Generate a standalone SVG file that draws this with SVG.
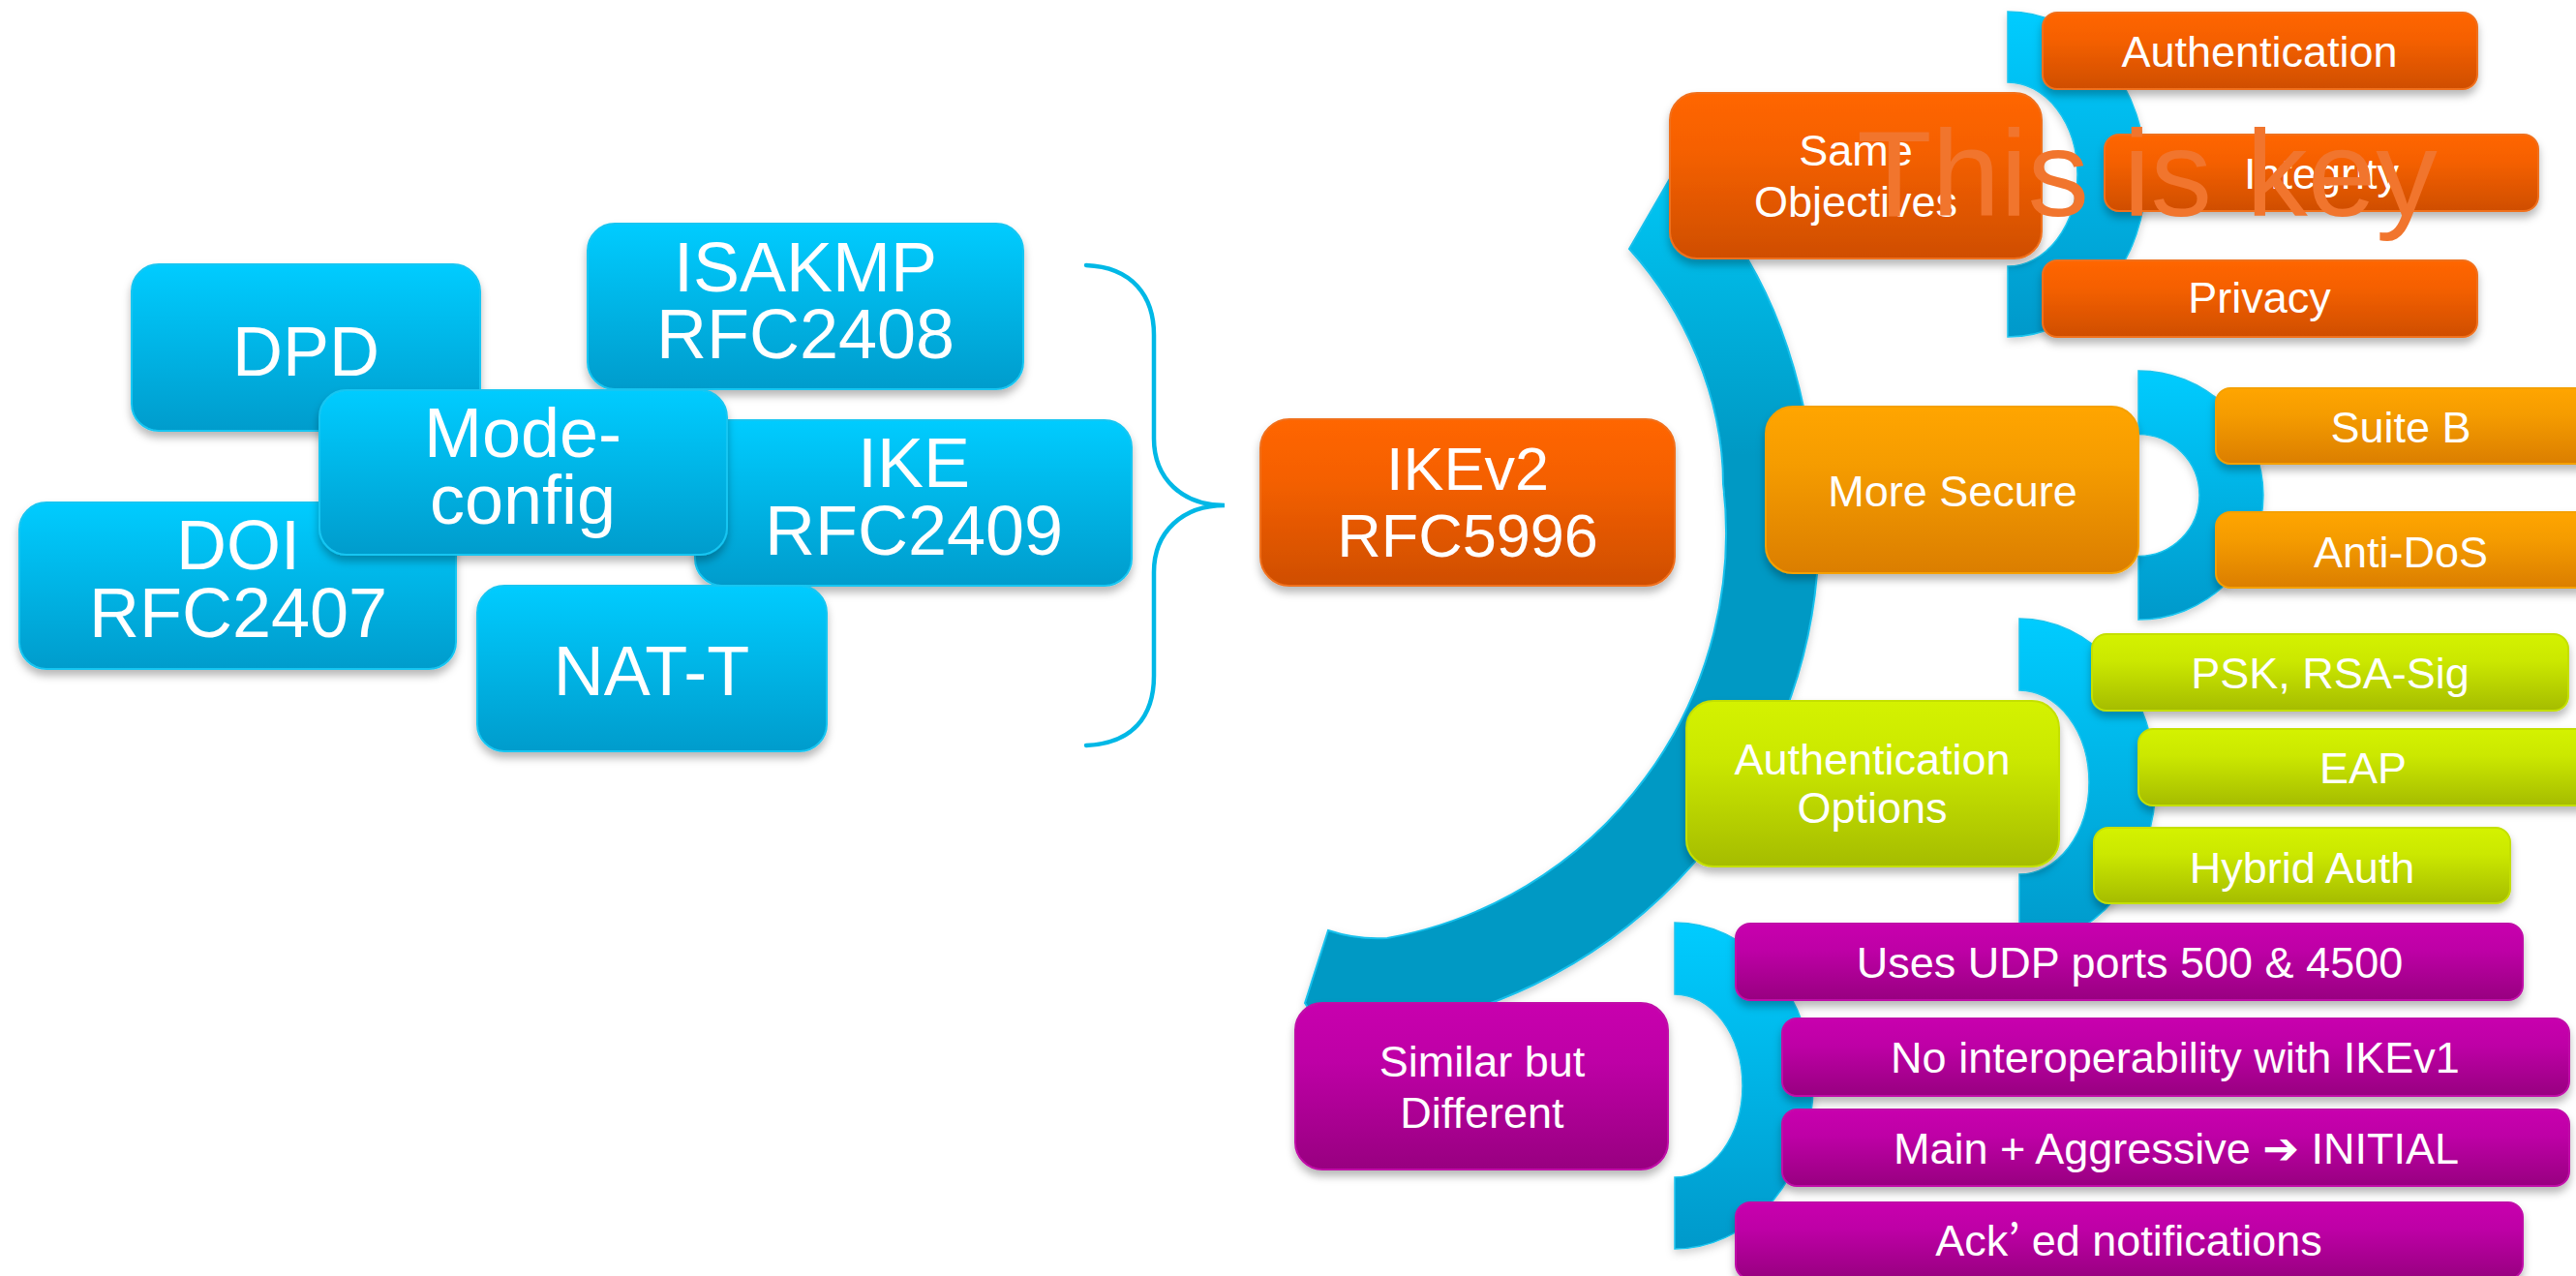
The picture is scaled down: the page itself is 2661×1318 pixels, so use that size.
<svg xmlns="http://www.w3.org/2000/svg" width="2661" height="1318" viewBox="0 0 2661 1318">
<defs>
<linearGradient id="gBlue" x1="0" y1="0" x2="0" y2="1"><stop offset="0" stop-color="#00CCFF"/><stop offset="1" stop-color="#009CCC"/></linearGradient>
<linearGradient id="gOrange" x1="0" y1="0" x2="0" y2="1"><stop offset="0" stop-color="#FF6600"/><stop offset="0.35" stop-color="#F56000"/><stop offset="1" stop-color="#CF4E00"/></linearGradient>
<linearGradient id="gAmber" x1="0" y1="0" x2="0" y2="1"><stop offset="0" stop-color="#FFA500"/><stop offset="0.35" stop-color="#F59C00"/><stop offset="1" stop-color="#DB7E00"/></linearGradient>
<linearGradient id="gLime" x1="0" y1="0" x2="0" y2="1"><stop offset="0" stop-color="#D4F200"/><stop offset="0.35" stop-color="#CBE800"/><stop offset="1" stop-color="#A5BC00"/></linearGradient>
<linearGradient id="gPurple" x1="0" y1="0" x2="0" y2="1"><stop offset="0" stop-color="#C800AE"/><stop offset="0.35" stop-color="#BE00A6"/><stop offset="1" stop-color="#980080"/></linearGradient>
<linearGradient id="gArc" gradientUnits="userSpaceOnUse" x1="0" y1="170" x2="0" y2="470"><stop offset="0" stop-color="#00C8F6"/><stop offset="1" stop-color="#0099C4"/></linearGradient>
<linearGradient id="gBr" x1="0" y1="0" x2="0" y2="1"><stop offset="0" stop-color="#00CCFF"/><stop offset="1" stop-color="#0099CA"/></linearGradient>
<filter id="sh" x="-10%" y="-15%" width="120%" height="145%"><feDropShadow dx="0" dy="6" stdDeviation="4" flood-color="#000" flood-opacity="0.28"/></filter>
<filter id="shs" x="-10%" y="-10%" width="120%" height="130%"><feDropShadow dx="0" dy="4" stdDeviation="4" flood-color="#000" flood-opacity="0.18"/></filter>
<style>
.t{font-family:"Liberation Sans",Arial,sans-serif;fill:#fff;text-anchor:middle}
.b72{font-size:72px}
.b63{font-size:63px}
.m45{font-size:45px}
.blue{fill:url(#gBlue);stroke:#19C6F2;stroke-width:2;filter:url(#sh)}
.orange{fill:url(#gOrange);stroke:#F0701E;stroke-width:2;filter:url(#sh)}
.amber{fill:url(#gAmber);stroke:#F5A000;stroke-width:2;filter:url(#sh)}
.lime{fill:url(#gLime);stroke:#C4E000;stroke-width:2;filter:url(#sh)}
.purple{fill:url(#gPurple);stroke:#C010A8;stroke-width:2;filter:url(#sh)}
.br{fill:url(#gBr);stroke:#1AC4EE;stroke-width:1.5;filter:url(#shs)}
</style>
</defs>
<rect width="2661" height="1318" fill="#fff"/>

<g id="connectors">
<path id="brace" d="M1122,274 C1170,276 1192,306 1192,346 L1192,453 C1192,495 1222,522 1265,522 C1222,522 1192,549 1192,591 L1192,698 C1192,740 1170,768 1122,770" fill="none" stroke="#00B8E6" stroke-width="4.5" stroke-linecap="round"/>
<path id="bigArc" d="M1683,257 C1740,320 1780,410 1780,500 A425,425 0 0 1 1433,969 Q1402,971 1372,961 L1348,1036 L1356,1048 L1420,1065 A520,520 0 0 0 1877,593 C1882,480 1860,360 1805,267 L1790,200 L1745,150 Z" fill="url(#gArc)" stroke="#18C0EC" stroke-width="2" filter="url(#shs)"/>
<path id="br1" class="br" d="M2074,12 A143,168 0 0 1 2074,348 L2074,275 A72,95 0 0 0 2074,85 Z"/>
<path id="br2" class="br" d="M2209,383 A129,128.5 0 0 1 2209,640 L2209,574.5 A63,63 0 0 0 2209,448.5 Z"/>
<path id="br3" class="br" d="M2086,639 A141,169 0 0 1 2086,977 L2086,903 A72,95 0 0 0 2086,713 Z"/>
<path id="br4" class="br" d="M1730,953 A143,168.5 0 0 1 1730,1290 L1730,1216 A70,94.5 0 0 0 1730,1027 Z"/>
</g>

<g id="n-dpd"><rect class="blue" x="136" y="273" width="360" height="172" rx="28"/><text class="t b72" x="316" y="388">DPD</text></g>
<g id="n-doi"><rect class="blue" x="20" y="519" width="451" height="172" rx="28"/><text class="t b72" x="246" y="588">DOI</text><text class="t b72" x="246" y="658">RFC2407</text></g>
<g id="n-isakmp"><rect class="blue" x="607" y="231" width="450" height="171" rx="28"/><text class="t b72" x="832" y="301">ISAKMP</text><text class="t b72" x="832" y="370">RFC2408</text></g>
<g id="n-ike"><rect class="blue" x="718" y="434" width="451" height="171" rx="28"/><text class="t b72" x="944" y="503">IKE</text><text class="t b72" x="944" y="573">RFC2409</text></g>
<g id="n-natt"><rect class="blue" x="493" y="605" width="361" height="171" rx="28"/><text class="t b72" x="673" y="718">NAT-T</text></g>
<g id="n-modecfg"><rect class="blue" x="330" y="403" width="421" height="170" rx="28"/><text class="t b72" x="540" y="472">Mode-</text><text class="t b72" x="540" y="541">config</text></g>

<g id="n-ikev2"><rect class="orange" x="1302" y="433" width="428" height="172" rx="30"/><text class="t b63" x="1516" y="506">IKEv2</text><text class="t b63" x="1516" y="575">RFC5996</text></g>

<g id="n-same"><rect class="orange" x="1725" y="96" width="384" height="171" rx="28"/><text class="t m45" x="1917" y="171">Same</text><text class="t m45" x="1917" y="224">Objectives</text></g>
<g id="n-authn"><rect class="orange" x="2110" y="13" width="449" height="79" rx="15"/><text class="t m45" x="2334" y="69">Authentication</text></g>
<g id="n-integrity"><rect class="orange" x="2174" y="139" width="448" height="79" rx="15"/><text class="t m45" x="2398" y="195">Integrity</text></g>
<g id="n-privacy"><rect class="orange" x="2110" y="269" width="449" height="79" rx="15"/><text class="t m45" x="2334" y="323">Privacy</text></g>

<g id="n-secure"><rect class="amber" x="1824" y="420" width="385" height="172" rx="28"/><text class="t m45" x="2017" y="523">More Secure</text></g>
<g id="n-suiteb"><rect class="amber" x="2289" y="401" width="390" height="78" rx="15"/><text class="t m45" x="2480" y="457">Suite B</text></g>
<g id="n-antidos"><rect class="amber" x="2289" y="529" width="390" height="78" rx="15"/><text class="t m45" x="2480" y="586">Anti-DoS</text></g>

<g id="n-authopt"><rect class="lime" x="1742" y="724" width="385" height="171" rx="28"/><text class="t m45" x="1934" y="800">Authentication</text><text class="t m45" x="1934" y="850">Options</text></g>
<g id="n-psk"><rect class="lime" x="2161" y="655" width="492" height="79" rx="15"/><text class="t m45" x="2407" y="711">PSK, RSA-Sig</text></g>
<g id="n-eap"><rect class="lime" x="2209" y="753" width="470" height="79" rx="15"/><text class="t m45" x="2441" y="809">EAP</text></g>
<g id="n-hybrid"><rect class="lime" x="2163" y="855" width="430" height="78" rx="15"/><text class="t m45" x="2378" y="912">Hybrid Auth</text></g>

<g id="n-similar"><rect class="purple" x="1338" y="1036" width="385" height="172" rx="28"/><text class="t m45" x="1531" y="1112">Similar but</text><text class="t m45" x="1531" y="1165">Different</text></g>
<g id="n-udp"><rect class="purple" x="1793" y="954" width="813" height="79" rx="15"/><text class="t m45" x="2200" y="1010">Uses UDP ports 500 &amp; 4500</text></g>
<g id="n-interop"><rect class="purple" x="1841" y="1052" width="813" height="80" rx="15"/><text class="t m45" x="2247" y="1108">No interoperability with IKEv1</text></g>
<g id="n-main"><rect class="purple" x="1841" y="1146" width="813" height="79" rx="15"/><text class="t m45" x="2248" y="1202">Main + Aggressive <tspan font-family="'DejaVu Sans',sans-serif" font-weight="bold">➔</tspan> INITIAL</text></g>
<g id="n-acked"><rect class="purple" x="1793" y="1242" width="813" height="79" rx="15"/><text class="t m45" x="2199" y="1297">Ack<tspan font-family="'Noto Sans CJK JP',sans-serif">’</tspan><tspan dx="12">ed notifications</tspan></text></g>

<text id="key" x="1918" y="223" font-family="'Liberation Sans',Arial,sans-serif" font-size="127" fill="#F1752D">This is key</text>
</svg>
